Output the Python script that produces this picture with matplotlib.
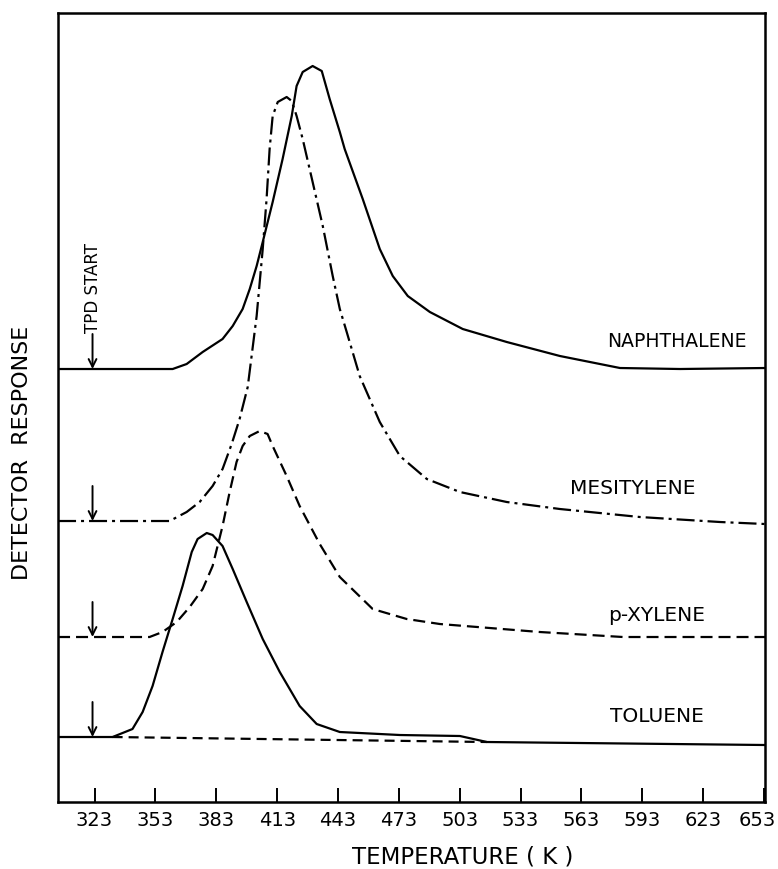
import matplotlib.pyplot as plt
from matplotlib.transforms import ScaledTranslation

# temperature (K) and detector response (arbitrary units)
naph_T = [305, 361.5, 368.4, 376.3, 386.1, 391.1, 396.0, 399.5, 402.9, 405.9, 410.8,
          415.7, 420.2, 422.6, 425.6, 430.5, 435.0, 438.9, 443.9, 446.3, 455.2,
          463.6, 470.0, 477.4, 488.3, 504.5, 526.2, 552.4, 582.0, 611.6, 653.5]
naph_R = [433, 433, 438, 450, 463, 476, 493, 513, 536, 560, 600,
          643, 686, 716, 730, 736, 731, 703, 670, 653, 603,
          553, 526, 506, 490, 473, 460, 446, 434, 433, 434]

mes_T = [305, 360.0, 368.4, 374.8, 381.2, 386.1, 390.6, 394.5, 398.5, 402.9, 405.9,
         407.8, 409.3, 410.8, 413.3, 417.7, 420.2, 422.6, 425.6, 430.5, 435.5,
         440.4, 443.9, 447.3, 453.7, 463.6, 473.5, 486.8, 503.1, 526.2, 552.4,
         591.8, 631.3, 653.5]
mes_R = [281, 281, 290, 300, 316, 333, 358, 383, 415, 486, 553,
         603, 653, 686, 700, 705, 701, 686, 663, 620, 576,
         526, 493, 470, 426, 380, 346, 323, 310, 300, 293,
         285, 280, 278]

pxy_T = [305, 350.1, 356.5, 363.5, 369.9, 376.3, 381.2, 386.1, 389.6, 393.0, 396.0,
         399.5, 404.4, 408.3, 410.8, 417.7, 424.1, 434.0, 443.9, 460.1, 476.9,
         493.2, 542.5, 583.5, 653.5]
pxy_R = [165, 165, 170, 180, 195, 213, 236, 276, 310, 340, 356,
         366, 371, 368, 356, 326, 296, 258, 225, 193, 183,
         178, 170, 165, 165]

tol_T = [305, 331.9, 341.7, 346.7, 351.6, 356.5, 361.5, 366.4, 370.9, 373.8, 378.3,
         381.2, 386.1, 391.1, 398.0, 405.9, 414.3, 424.1, 432.5, 443.9, 473.5,
         503.1, 516.4, 653.5]
tol_R = [65, 65, 73, 90, 116, 150, 183, 216, 250, 263, 269,
         267, 256, 233, 200, 163, 130, 96, 78, 70, 67,
         66, 60, 57]

# dashed baseline under the toluene peak
tol_base_T = [331.9, 516.4]
tol_base_R = [65, 60]

x_ticks = [323, 353, 383, 413, 443, 473, 503, 533, 563, 593, 623, 653]

names = ["NAPHTHALENE", "MESITYLENE", "p-XYLENE", "TOLUENE"]
label_T = [575.5, 557.5, 576.0, 577.0]
label_R = [462, 315, 188, 87]
label_size = [13.5, 14.5, 14.5, 14.5]
base_R = [433, 281, 165, 65]
tpd_T = 322

fig = plt.figure(figsize=(7.78, 8.70), dpi=100)
ax = fig.add_axes([0.0746, 0.077, 0.9087, 0.9069])

lw = 1.6
ax.plot(naph_T, naph_R, color="black", lw=lw, solid_joinstyle="round")
ax.plot(mes_T, mes_R, color="black", lw=lw, linestyle=(0, (8.1, 2.25, 1.35, 2.25)))
ax.plot(pxy_T, pxy_R, color="black", lw=lw, linestyle=(0, (5.4, 2.7)))
ax.plot(tol_T, tol_R, color="black", lw=lw, solid_joinstyle="round")
ax.plot(tol_base_T, tol_base_R, color="black", lw=lw, linestyle=(0, (4.5, 2.7)))

# TPD start arrows
for r in base_R:
    ax.annotate("", xy=(tpd_T, r), xytext=(tpd_T, r + 35),
                arrowprops=dict(arrowstyle="->", color="black", lw=1.4,
                                mutation_scale=14, shrinkA=0, shrinkB=0))
ax.text(tpd_T, base_R[0] + 82, "TPD START", rotation=90, ha="center", va="center",
        fontsize=12)

for name, tx, ty, fs in zip(names, label_T, label_R, label_size):
    ax.text(tx, ty, name, ha="left", va="center", fontsize=fs)

ax.set_xlim(305, 653.5)
ax.set_ylim(0, 789)
ax.set_xticks(x_ticks)
ax.set_yticks([])
ax.tick_params(axis="x", direction="in", length=10, width=1.4, pad=6, labelsize=14)
for s in ax.spines.values():
    s.set_linewidth(1.8)

# keep the last tick label inside the figure
last = ax.get_xticklabels()[-1]
last.set_transform(last.get_transform() + ScaledTranslation(-5 / 72, 0, fig.dpi_scale_trans))

fig.text(0.595, 0.015, "TEMPERATURE ( K )", ha="center", va="center", fontsize=16.5)
fig.text(0.028, 0.48, "DETECTOR  RESPONSE", ha="center", va="center", rotation=90,
         fontsize=16)

fig.savefig("out.png", dpi=100)
